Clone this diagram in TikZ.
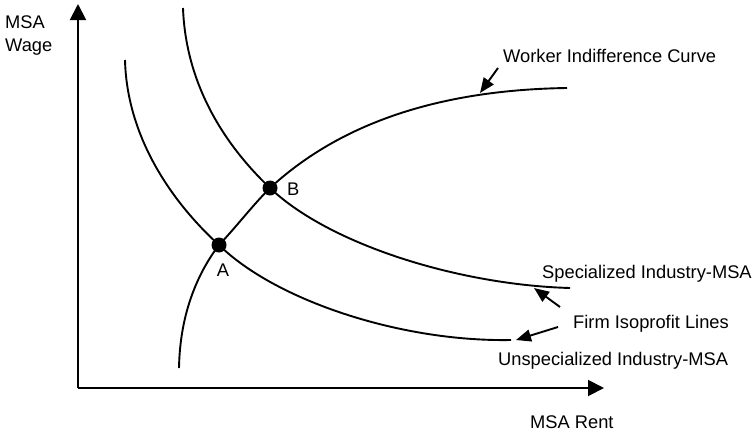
\documentclass[tikz,border=0pt]{standalone}
\usepackage{fontspec}
\setmainfont{Liberation Sans}
\usetikzlibrary{arrows.meta,positioning}

\begin{document}
\begin{tikzpicture}[x=1pt,y=-1pt,
		curve/.style={line width=1.9pt},
		axis/.style={line width=1.9pt,-{Triangle[length=16pt,width=16pt]}},
		pointer/.style={line width=1.9pt,-{Triangle[length=15pt,width=12pt]}},
		dot/.style={circle,fill,inner sep=0pt,minimum size=15pt},
		lbl/.style={font=\fontsize{18.3}{23}\selectfont,inner sep=0pt}]
		
		\useasboundingbox (0,0) rectangle (754,434);
		
		% axes
		\coordinate (O) at (78,388);
		\coordinate (ytop) at (78,4);
		\coordinate (xend) at (604,388);
		\draw[axis] (O) -- (ytop);
		\draw[axis] (O) -- (xend);
		
		\node[lbl,anchor=base west,align=left] (ylab) at (5,51)
		{MSA\\Wage};
		\node[lbl,anchor=base west] (xlab) at (530,428)
		{MSA Rent};
		
		% worker indifference curve
		\draw[curve] (179,368) .. controls (180,310) and (200,270) .. (219,245)
		.. controls (237,226) and (252,206) .. (270,188)
		.. controls (335,128) and (430,90) .. (567,88);
		
		% firm isoprofit lines
		\draw[curve] (183,8) .. controls (186,90) and (230,150) .. (270,188)
		.. controls (330,245) and (460,285) .. (570,288);
		\draw[curve] (125,60) .. controls (127,140) and (175,205) .. (219,245)
		.. controls (275,300) and (400,342) .. (511,340);
		
		\node[dot] (A) at (219,245) {};
		\node[dot] (B) at (270,188) {};
		\node[lbl,anchor=base] (Alab) at (223,276) {A};
		\node[lbl,anchor=base west] (Blab) at (287,195) {B};
		
		% labels and pointers
		\node[lbl,anchor=base west] (wlab) at (503,62)
		{Worker Indifference Curve};
		\node[lbl,anchor=base west] (slab) at (542,278)
		{Specialized Industry-MSA};
		\node[lbl,anchor=base west] (flab) at (573,328)
		{Firm Isoprofit Lines};
		\node[lbl,anchor=base west] (ulab) at (498,365)
		{Unspecialized Industry-MSA};
		
		\coordinate (wtail) at (498,68);
		\coordinate (wtip) at (480,93);
		\coordinate (stail) at (560,307);
		\coordinate (stip) at (534,288);
		\coordinate (utail) at (558,327);
		\coordinate (utip) at (516,340);
		
		\draw[pointer] (wtail)--(wtip);
		\draw[pointer] (stail)--(stip);
		\draw[pointer] (utail)--(utip);
		
	\end{tikzpicture}
\end{document}
